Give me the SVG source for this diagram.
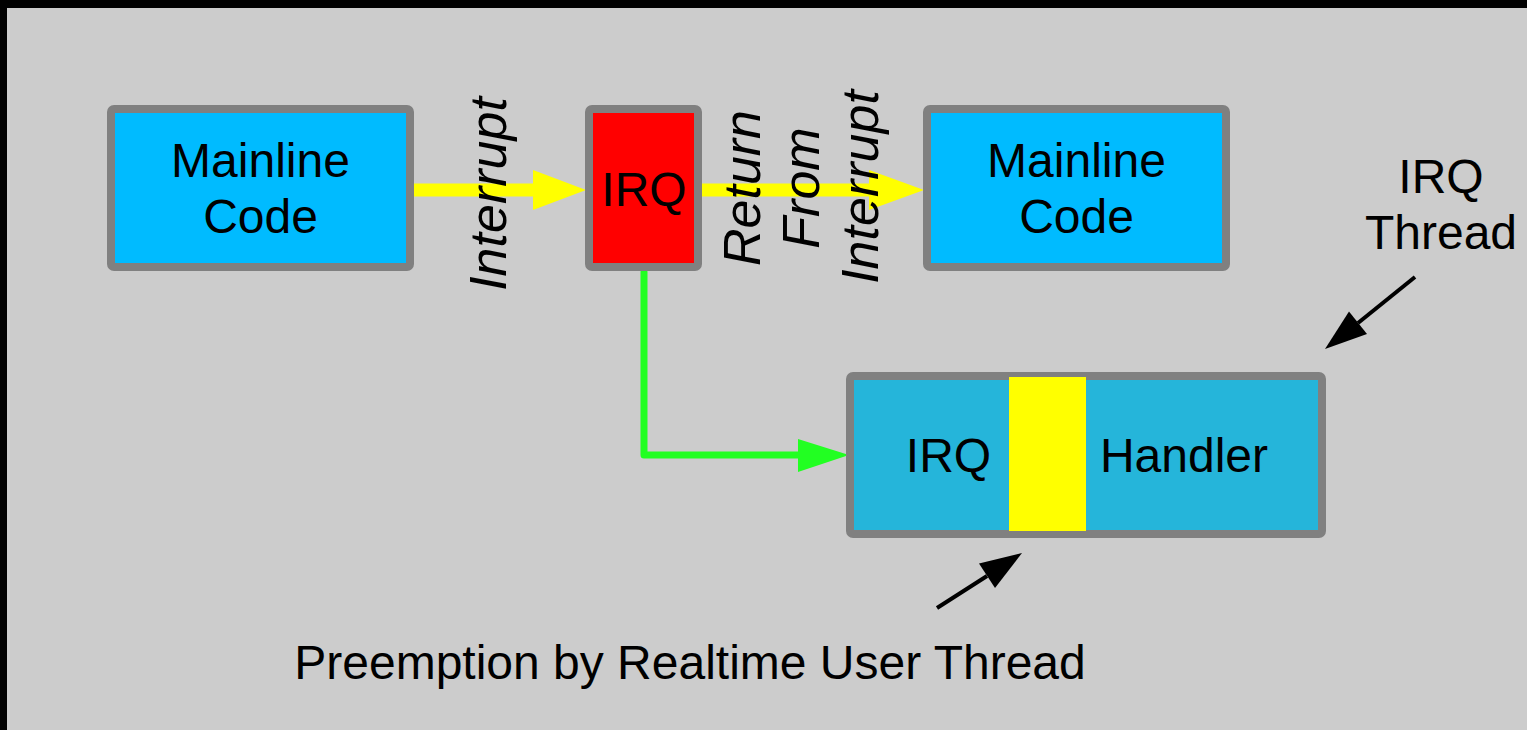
<svg xmlns="http://www.w3.org/2000/svg" width="1527" height="730" viewBox="0 0 1527 730">
  <style>
    .box { stroke: #808080; stroke-width: 8; stroke-linejoin: round; }
    .main { fill: #00BBFF; }
    .irq { fill: #FF0000; }
    .handler { fill: #25B5DA; }
    .lbl { font-family: "Liberation Sans", Arial, sans-serif; font-size: 48px; fill: #000; text-anchor: middle; }
    .rot { font-family: "Liberation Sans", Arial, sans-serif; font-size: 52px; font-style: italic; fill: #000; text-anchor: middle; }
    .flow { stroke: #FFFF00; stroke-width: 13; fill: none; }
    .call { stroke: #22FF22; stroke-width: 7; fill: none; stroke-linejoin: round; stroke-linecap: round; }
    .pointer { stroke: #000; stroke-width: 4; fill: none; }
  </style>

  <!-- frame and backdrop -->
  <rect x="0" y="0" width="1527" height="730" fill="#000"/>
  <rect x="7" y="8" width="1520" height="722" fill="#CCCCCC"/>

  <!-- connectors -->
  <g id="connectors">
    <!-- Interrupt: mainline -> IRQ -->
    <line class="flow" x1="414" y1="190" x2="534" y2="190"/>
    <polygon points="533,170 586,190 533,210" fill="#FFFF00"/>
    <!-- Return from interrupt: IRQ -> mainline -->
    <line class="flow" x1="701" y1="190" x2="871" y2="190"/>
    <polygon points="869,170 924,190 869,210" fill="#FFFF00"/>
    <!-- IRQ -> threaded handler -->
    <polyline class="call" points="644,272 644,455 800,455"/>
    <polygon points="798,439 849,455 798,472" fill="#22FF22"/>
    <!-- callout: IRQ thread -->
    <line class="pointer" x1="1415" y1="277" x2="1358" y2="323"/>
    <polygon points="1325,349 1367,334 1349,311.5" fill="#000"/>
    <!-- callout: preemption -->
    <line class="pointer" x1="937" y1="608" x2="987" y2="576"/>
    <polygon points="1022,553 995,588 979,563.5" fill="#000"/>
  </g>

  <!-- edge labels -->
  <g id="edge-labels">
    <text class="rot" transform="translate(506,194) rotate(-90)">Interrupt</text>
    <text class="rot" transform="translate(760,188) rotate(-90)">Return</text>
    <text class="rot" transform="translate(819,188) rotate(-90)">From</text>
    <text class="rot" transform="translate(878,187) rotate(-90)">Interrupt</text>
  </g>

  <g id="mainline-1">
    <rect class="box main" x="111" y="109" width="299" height="158" rx="3"/>
    <text class="lbl" x="260.5" y="177">Mainline</text>
    <text class="lbl" x="260.5" y="233">Code</text>
  </g>

  <g id="irq">
    <rect class="box irq" x="589" y="109" width="109" height="158" rx="3"/>
    <text class="lbl" x="644" y="206">IRQ</text>
  </g>

  <g id="mainline-2">
    <rect class="box main" x="927" y="109" width="299" height="158" rx="3"/>
    <text class="lbl" x="1076.5" y="177">Mainline</text>
    <text class="lbl" x="1076.5" y="233">Code</text>
  </g>

  <g id="irq-handler">
    <rect class="box handler" x="850" y="376" width="472" height="158" rx="3"/>
    <rect x="1009" y="377" width="77" height="154" fill="#FFFF00"/>
    <text class="lbl" x="948.5" y="472">IRQ</text>
    <text class="lbl" x="1184" y="472">Handler</text>
  </g>

  <g id="irq-thread-note">
    <text class="lbl" x="1441" y="193">IRQ</text>
    <text class="lbl" x="1441" y="249">Thread</text>
  </g>

  <g id="preemption-note">
    <text class="lbl" x="690" y="679">Preemption by Realtime User Thread</text>
  </g>
</svg>
